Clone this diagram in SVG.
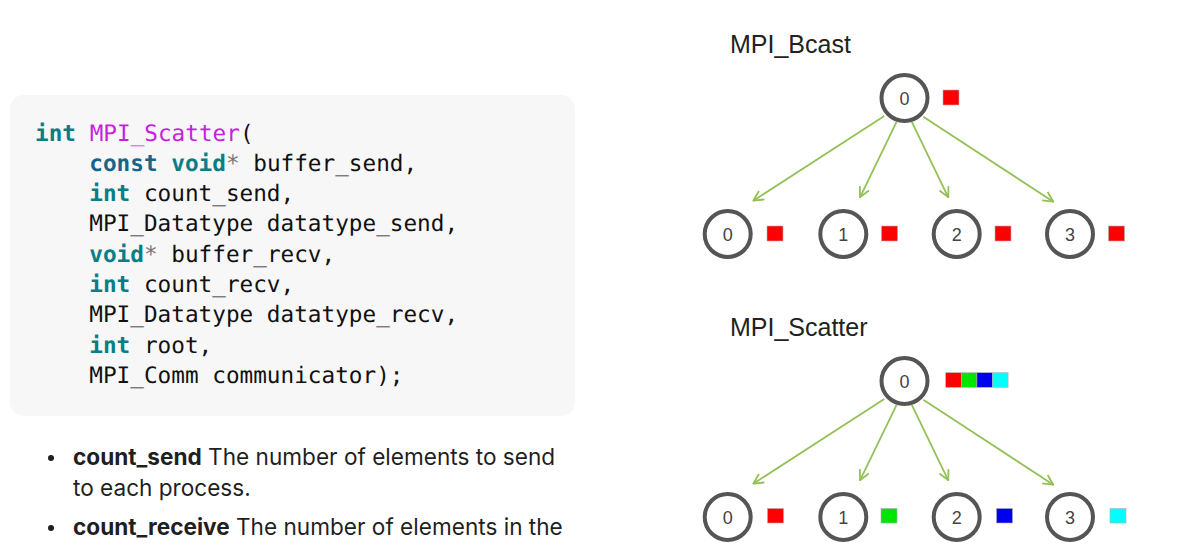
<svg xmlns="http://www.w3.org/2000/svg" width="1204" height="549" viewBox="0 0 1204 549">
<defs>
<style>
.code{font-family:"DejaVu Sans Mono",monospace;font-size:22.7px;fill:#111;text-rendering:geometricPrecision;}
.kw{fill:#0b7d86;font-weight:bold;}
.kw2{fill:#17648a;font-weight:bold;}
.fn{fill:#c81ee0;}
.star{fill:#777;}
.body{font-family:Inter,"Noto Sans",sans-serif;font-size:22.6px;fill:#1f1f1f;}
.title{font-family:"Liberation Sans",Arial,sans-serif;font-size:25px;fill:#222;}
.node circle{fill:#fff;stroke:#555;stroke-width:4;}
.node text{font-family:"Liberation Sans",Arial,sans-serif;font-size:18px;fill:#444;text-anchor:middle;}
.edge{stroke:#94c157;stroke-width:1.8;fill:none;marker-end:url(#arr);}
.sq{stroke:#b0b0b0;stroke-width:0.6;}
</style>
<marker id="arr" viewBox="0 0 12 12" refX="11" refY="6" markerWidth="12" markerHeight="12" markerUnits="userSpaceOnUse" orient="auto">
<path d="M1,1 L11,6 L1,11" fill="none" stroke="#94c157" stroke-width="1.8"/>
</marker>
</defs>
<rect width="1204" height="549" fill="#fff"/>

<g id="code-block">
<rect x="10" y="95" width="565" height="321" rx="14" fill="#f7f7f7"/>
<text class="code" x="35" y="140.5"><tspan class="kw">int</tspan> <tspan class="fn">MPI_Scatter</tspan>(</text>
<text class="code" x="89.3" y="170.8"><tspan class="kw2">const</tspan> <tspan class="kw">void</tspan><tspan class="star">*</tspan> buffer_send,</text>
<text class="code" x="89.3" y="201.1"><tspan class="kw">int</tspan> count_send,</text>
<text class="code" x="89.3" y="231.4">MPI_Datatype datatype_send,</text>
<text class="code" x="89.3" y="261.7"><tspan class="kw">void</tspan><tspan class="star">*</tspan> buffer_recv,</text>
<text class="code" x="89.3" y="292"><tspan class="kw">int</tspan> count_recv,</text>
<text class="code" x="89.3" y="322.3">MPI_Datatype datatype_recv,</text>
<text class="code" x="89.3" y="352.6"><tspan class="kw">int</tspan> root,</text>
<text class="code" x="89.3" y="382.9">MPI_Comm communicator);</text>
</g>

<g id="bullets">
<circle cx="51" cy="458" r="3" fill="#1f1f1f"/>
<text class="body" x="73" y="465"><tspan font-weight="bold">count_send</tspan> The number of elements to send</text>
<text class="body" x="73" y="496">to each process.</text>
<circle cx="51" cy="528" r="3" fill="#1f1f1f"/>
<text class="body" x="73" y="535"><tspan font-weight="bold">count_receive</tspan> The number of elements in the</text>
</g>

<g id="bcast">
<text class="title" x="730" y="53">MPI_Bcast</text>
<g class="connectors" id="bcast-edges">
<line class="edge" x1="884.3" y1="116" x2="753.3" y2="200.7"/>
<line class="edge" x1="896.7" y1="121.7" x2="860" y2="197.3"/>
<line class="edge" x1="911.7" y1="121.7" x2="948.3" y2="197.3"/>
<line class="edge" x1="923.3" y1="116.7" x2="1053.3" y2="201.7"/>
</g>
<g class="node" id="bcast-root"><circle cx="904.5" cy="98" r="23"/><text x="904.5" y="104.5">0</text></g>
<rect x="943" y="90" width="16" height="15" fill="#ff0000" class="sq"/>
<g class="node" id="bcast-p0"><circle cx="727.7" cy="234" r="23"/><text x="727.7" y="240.5">0</text></g>
<rect x="767" y="226" width="16" height="15" fill="#ff0000" class="sq"/>
<g class="node" id="bcast-p1"><circle cx="843.3" cy="234" r="23"/><text x="843.3" y="240.5">1</text></g>
<rect x="881.5" y="226" width="16" height="15" fill="#ff0000" class="sq"/>
<g class="node" id="bcast-p2"><circle cx="956.7" cy="234" r="23"/><text x="956.7" y="240.5">2</text></g>
<rect x="995" y="226" width="16" height="15" fill="#ff0000" class="sq"/>
<g class="node" id="bcast-p3"><circle cx="1070" cy="234" r="23"/><text x="1070" y="240.5">3</text></g>
<rect x="1108.5" y="226" width="16" height="15" fill="#ff0000" class="sq"/>
</g>

<g id="scatter">
<text class="title" x="730" y="336">MPI_Scatter</text>
<g class="connectors" id="scatter-edges">
<line class="edge" x1="884.3" y1="399" x2="753.3" y2="483.7"/>
<line class="edge" x1="896.7" y1="404.7" x2="860" y2="480.3"/>
<line class="edge" x1="911.7" y1="404.7" x2="948.3" y2="480.3"/>
<line class="edge" x1="923.3" y1="399.7" x2="1053.3" y2="484.7"/>
</g>
<g class="node" id="scatter-root"><circle cx="904.5" cy="381" r="23"/><text x="904.5" y="387.5">0</text></g>
<rect x="945.7" y="372.7" width="15.6" height="14.6" fill="#ff0000" class="sq"/>
<rect x="961.3" y="372.7" width="15.6" height="14.6" fill="#00e600" class="sq"/>
<rect x="976.9" y="372.7" width="15.6" height="14.6" fill="#0000f0" class="sq"/>
<rect x="992.5" y="372.7" width="15.6" height="14.6" fill="#00ffff" class="sq"/>
<g class="node" id="scatter-p0"><circle cx="727.7" cy="517" r="23"/><text x="727.7" y="523.5">0</text></g>
<rect x="767.5" y="508.5" width="16" height="14.5" fill="#ff0000" class="sq"/>
<g class="node" id="scatter-p1"><circle cx="843.3" cy="517" r="23"/><text x="843.3" y="523.5">1</text></g>
<rect x="881" y="508.5" width="16" height="14.5" fill="#00e600" class="sq"/>
<g class="node" id="scatter-p2"><circle cx="956.7" cy="517" r="23"/><text x="956.7" y="523.5">2</text></g>
<rect x="996.5" y="508.5" width="16" height="14.5" fill="#0000f0" class="sq"/>
<g class="node" id="scatter-p3"><circle cx="1070" cy="517" r="23"/><text x="1070" y="523.5">3</text></g>
<rect x="1110" y="508.5" width="16" height="14.5" fill="#00ffff" class="sq"/>
</g>
</svg>
